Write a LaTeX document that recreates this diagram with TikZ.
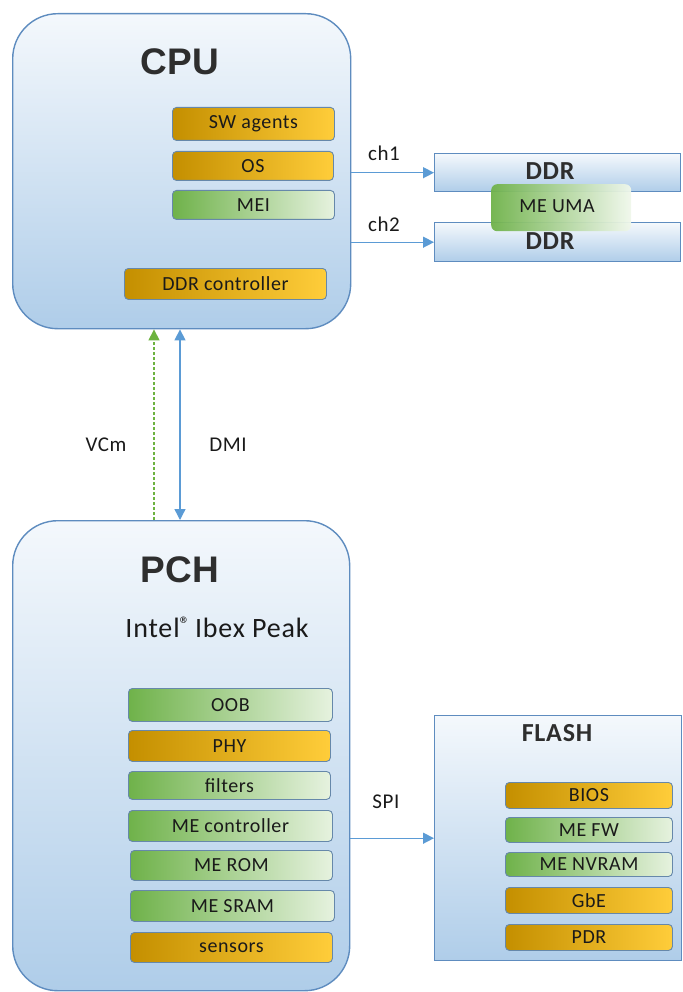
\documentclass[tikz,border=0pt]{standalone}
\usepackage{fontspec}
\setmainfont{Carlito}[LetterSpace=3]
\newfontfamily\headfont{Liberation Sans}
\usetikzlibrary{arrows.meta}

\definecolor{frameline}{HTML}{5E8CBF}
\definecolor{paletop}{HTML}{F4F8FC}
\definecolor{palebottom}{HTML}{AFCDE9}
\definecolor{itemline}{HTML}{6688AA}
\definecolor{golddark}{HTML}{C48F00}
\definecolor{goldmid}{HTML}{EEB306}
\definecolor{goldlight}{HTML}{FFCD3A}
\definecolor{greendark}{HTML}{6FB24A}
\definecolor{greenmid}{HTML}{A6D18C}
\definecolor{greenlight}{HTML}{E6F2DF}
\definecolor{linkblue}{HTML}{5B9BD5}
\definecolor{vcmgreen}{HTML}{6DB33F}
\definecolor{inktext}{HTML}{1A1A1A}

\tikzset{
  frame/.style={draw=frameline, line width=1.4, top color=paletop, bottom color=palebottom,
    anchor=north west, inner sep=0},
  item/.style={draw=itemline, line width=0.9, rounded corners=4, anchor=north west,
    inner sep=0, font=\fontsize{20}{22}\selectfont, text=inktext},
  golditem/.style={item, left color=golddark, middle color=goldmid, right color=goldlight},
  greenitem/.style={item, left color=greendark, middle color=greenmid, right color=greenlight},
  headtext/.style={font=\headfont\bfseries\fontsize{37}{40}\selectfont, text=black!82},
  boxtitle/.style={font=\bfseries\fontsize{26}{28}\selectfont, text=black!82},
  lbl/.style={font=\fontsize{21}{24}\selectfont, text=inktext},
  link/.style={draw=linkblue, line width=1.4, -{Triangle[length=11,width=11]}},
  dmilink/.style={draw=linkblue, line width=1.4, {Triangle[length=11,width=11]}-{Triangle[length=11,width=11]}},
  vcmlink/.style={draw=vcmgreen, line width=1.2, dashed, dash pattern=on 3 off 2, -{Triangle[length=11,width=11]}}
}

\begin{document}
\begin{tikzpicture}[x=1pt,y=-1pt]
\useasboundingbox (0,0) rectangle (682,992);

% ---------- CPU ----------
\node[frame, rounded corners=45, minimum width=338, minimum height=315] (cpu) at (12,13) {};
\node[headtext] (cputitle) at (180,62) {CPU};
\node[golditem, minimum width=162, minimum height=33] (sw) at (172,107) {SW agents};
\node[golditem, minimum width=161, minimum height=29] (os) at (172,151) {OS};
\node[greenitem, minimum width=162, minimum height=29] (mei) at (172,190) {MEI};
\node[golditem, minimum width=202, minimum height=31] (ddrc) at (124,268) {DDR controller};

% ---------- memory ----------
\node[frame, minimum width=246, minimum height=38] (ddr1) at (434,153) {};
\node[frame, minimum width=246, minimum height=39] (ddr2) at (434,222) {};
\node[boxtitle] (ddr1t) at (550,171) {DDR};
\node[boxtitle] (ddr2t) at (550,241) {DDR};
\node[anchor=north west, rounded corners=6, inner sep=0, minimum width=140, minimum height=47,
      left color=greendark, middle color=greenmid!80!greendark, right color=greenlight!60!white,
      opacity=0.95] (uma) at (491,184) {};
\node[item, draw=none] (umat) at (519,199) {ME UMA};

\draw[link] (cpu.east |- ddr1.west) -- (ddr1.west);
\draw[link] (cpu.east |- ddr2.west) -- (ddr2.west);
\node[lbl] (ch1) at (384,153) {ch1};
\node[lbl] (ch2) at (384,224) {ch2};

% ---------- PCH ----------
\node[frame, rounded corners=45, minimum width=337, minimum height=470] (pch) at (12,520) {};
\node[headtext] (pchtitle) at (180,570) {PCH};
\node[font=\fontsize{28}{30}\selectfont, text=inktext] (ibex) at (217,627)
  {Intel\raisebox{0.45ex}{\fontsize{21}{21}\selectfont\textregistered}\,Ibex Peak};
\node[greenitem, minimum width=204, minimum height=33] (oob) at (128,688) {OOB};
\node[golditem, minimum width=202, minimum height=31] (phy) at (128,730) {PHY};
\node[greenitem, minimum width=202, minimum height=28] (filt) at (128,771) {filters};
\node[greenitem, minimum width=204, minimum height=31] (mectl) at (128,810) {ME controller};
\node[greenitem, minimum width=202, minimum height=30] (merom) at (130,850) {ME ROM};
\node[greenitem, minimum width=204, minimum height=31] (mesram) at (130,890) {ME SRAM};
\node[golditem, minimum width=202, minimum height=30] (sens) at (130,932) {sensors};

% ---------- CPU <-> PCH ----------
\coordinate (vcmx) at (154,0);
\coordinate (dmix) at (180,0);
\draw[vcmlink] (pch.north -| vcmx) -- (cpu.south -| vcmx);
\draw[dmilink] (cpu.south -| dmix) -- (pch.north -| dmix);
\node[lbl] (vcm) at (106,445) {VCm};
\node[lbl] (dmi) at (228,445) {DMI};

% ---------- FLASH ----------
\node[frame, minimum width=247, minimum height=245] (flash) at (434,715) {};
\node[boxtitle] (flasht) at (557,733) {FLASH};
\node[golditem, minimum width=167, minimum height=26] (bios) at (505,782) {BIOS};
\node[greenitem, minimum width=167, minimum height=25] (mefw) at (505,817) {ME FW};
\node[greenitem, minimum width=167, minimum height=24] (nvram) at (505,852) {ME NVRAM};
\node[golditem, minimum width=167, minimum height=26] (gbe) at (505,887) {GbE};
\node[golditem, minimum width=167, minimum height=26] (pdr) at (505,924) {PDR};

\draw[link] (pch.east |- flash.west) -- (flash.west);
\node[lbl] (spi) at (386,802) {SPI};
\end{tikzpicture}
\end{document}
